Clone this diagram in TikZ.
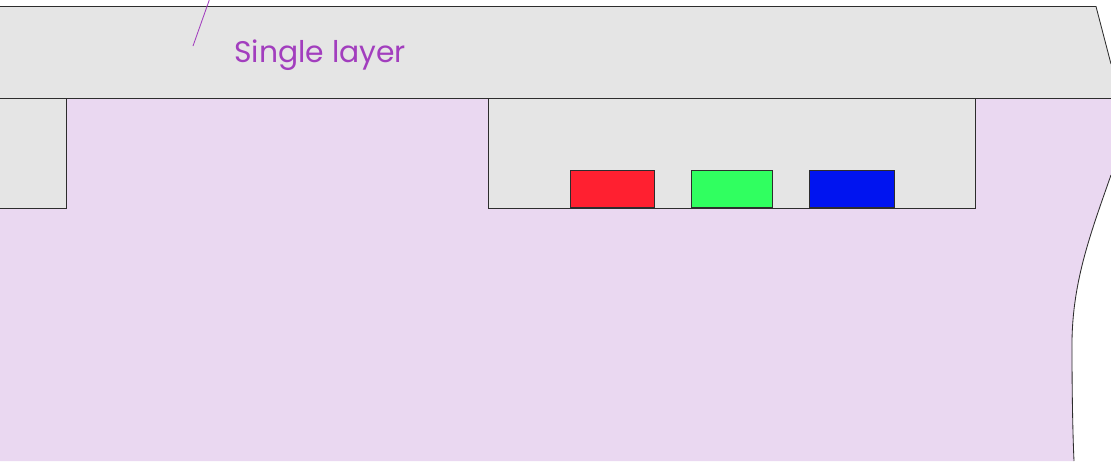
\documentclass[tikz,border=0pt]{standalone}
\usepackage{fontspec}
\setmainfont{Poppins}
\usetikzlibrary{positioning}
\definecolor{layergray}{RGB}{229,229,229}
\definecolor{substlilac}{RGB}{234,216,241}
\definecolor{labelpurple}{RGB}{162,62,190}
\definecolor{edgegray}{RGB}{45,45,45}
\definecolor{pixred}{RGB}{255,32,48}
\definecolor{pixgreen}{RGB}{48,255,96}
\definecolor{pixblue}{RGB}{0,20,240}
\tikzset{
  edge/.style={draw=edgegray, line width=0.6pt},
  slab/.style={fill=layergray, edge},
  chip/.style={rectangle, draw=edgegray, line width=0.6pt, inner sep=0pt,
               minimum width=84\pxu, minimum height=37\pxu, anchor=south west},
  lbl/.style={text=labelpurple, font=\fontsize{21.2}{24}\selectfont, inner sep=0pt},
}
\newlength{\pxu}
\setlength{\pxu}{0.025cm}
\begin{document}
\begin{tikzpicture}[x=0.025cm,y=-0.025cm]
        \useasboundingbox[fill=white](0,0) rectangle (1111,461);
        % substrate
        \fill[substlilac](0,98)--(1111,98)--(1111,175)
            .. controls (1090,235) and (1071,285) .. (1072,350)
            .. controls (1072,400) and (1073,440) .. (1074,461)--(0,461)--cycle;
        \draw[edge](1111,175) .. controls (1090,235) and (1071,285) .. (1072,350)
            .. controls (1072,400) and (1073,440) .. (1074,461);
        % top layer
        \fill[layergray](0,6.5)--(1096,6.5)--(1111,64)--(1111,98)--(0,98)--cycle;
        \draw[edge](0,6.5)--(1096,6.5)--(1111,64);
        \draw[edge](0,98)--(1111,98);
        % wells
        \draw[slab](-2,98) rectangle (66,208);
        \draw[slab](488,98) rectangle (975,208);
        % pixels
        \node[chip,fill=pixred](red) at (570,208){};
        \node[chip,fill=pixgreen,minimum width=81\pxu](green) at (691,208){};
        \node[chip,fill=pixblue,minimum width=85\pxu](blue) at (809,208){};
        % label
        \node[lbl,anchor=base west](single) at (234,62){Single layer};
        \coordinate (tip) at (193,46);
        \draw[labelpurple,line width=0.6pt](tip)--(210,-2);
\end{tikzpicture}
\end{document}
